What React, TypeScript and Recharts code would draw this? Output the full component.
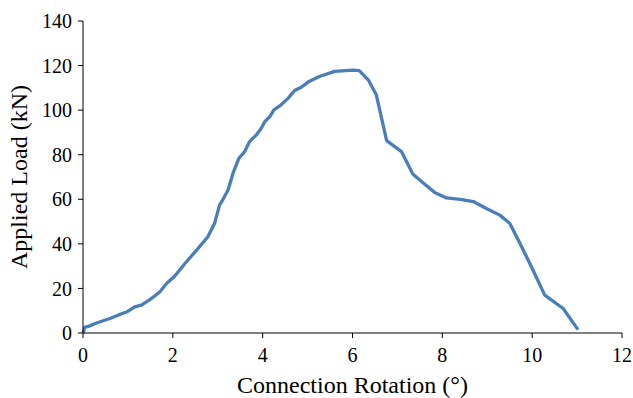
import React from "react";
import { LineChart, Line, XAxis, YAxis } from "recharts";

const rotation = [0, 0.04, 0.15, 0.3, 0.45, 0.6, 0.78, 0.97, 1.15, 1.3, 1.49, 1.71, 1.86, 2.04, 2.27, 2.53, 2.78, 2.93, 3.04, 3.12, 3.23, 3.34, 3.47, 3.6, 3.71, 3.86, 3.97, 4.05, 4.16, 4.25, 4.38, 4.57, 4.71, 4.86, 5.01, 5.25, 5.6, 6.01, 6.15, 6.35, 6.53, 6.76, 7.09, 7.34, 7.57, 7.83, 8.09, 8.4, 8.69, 8.98, 9.28, 9.5, 9.73, 10.02, 10.28, 10.69, 11.02];
const load = [0, 2.5, 3.2, 4.5, 5.5, 6.5, 8, 9.4, 11.7, 12.5, 15, 18.4, 22.2, 25.5, 31.2, 37.2, 43.2, 49.2, 57.4, 60.1, 64.2, 71.7, 78.4, 81.4, 85.9, 88.9, 91.9, 94.9, 97.1, 100.1, 101.9, 105.4, 108.8, 110.3, 112.6, 115, 117.4, 118, 117.7, 113.6, 106.9, 86.3, 81.4, 71.4, 67.4, 63, 60.6, 60.0, 59.0, 55.9, 52.9, 49.2, 40.2, 28.2, 17, 11, 1.5];
const xTicks = [0, 2, 4, 6, 8, 10, 12];
const yTicks = [0, 20, 40, 60, 80, 100, 120, 140];

const data = rotation.map((r, i) => ({ x: r, y: load[i] }));

const font = "'Liberation Serif', 'Times New Roman', serif";

export default function App() {
  return (
    <div style={{ position: "absolute", left: 0, top: 0, width: 633, height: 398, background: "#fff" }}>
      <LineChart width={633} height={398} data={data} margin={{ top: 21, right: 11, left: 0, bottom: 0 }}>
        <XAxis
          dataKey="x"
          type="number"
          domain={[0, 12]}
          ticks={xTicks}
          interval={0}
          height={65}
          stroke="#000"
          tickSize={5}
          tickMargin={10}
          tick={{ fill: "#000", fontSize: 20, fontFamily: font }}
          label={{ value: "Connection Rotation (°)", position: "insideBottom", offset: 5, fill: "#000", fontSize: 24, fontFamily: font }}
        />
        <YAxis
          type="number"
          domain={[0, 140]}
          ticks={yTicks}
          interval={0}
          width={83}
          stroke="#000"
          tickSize={5}
          tickMargin={6}
          tick={{ fill: "#000", fontSize: 20, fontFamily: font }}
          label={{ value: "Applied Load (kN)", angle: -90, position: "insideLeft", offset: 18, style: { textAnchor: "middle" }, fill: "#000", fontSize: 24, fontFamily: font }}
        />
        <Line
          dataKey="y"
          type="linear"
          stroke="#4A7EBB"
          strokeWidth={3.3}
          strokeLinejoin="round"
          dot={false}
          isAnimationActive={false}
        />
      </LineChart>
    </div>
  );
}
